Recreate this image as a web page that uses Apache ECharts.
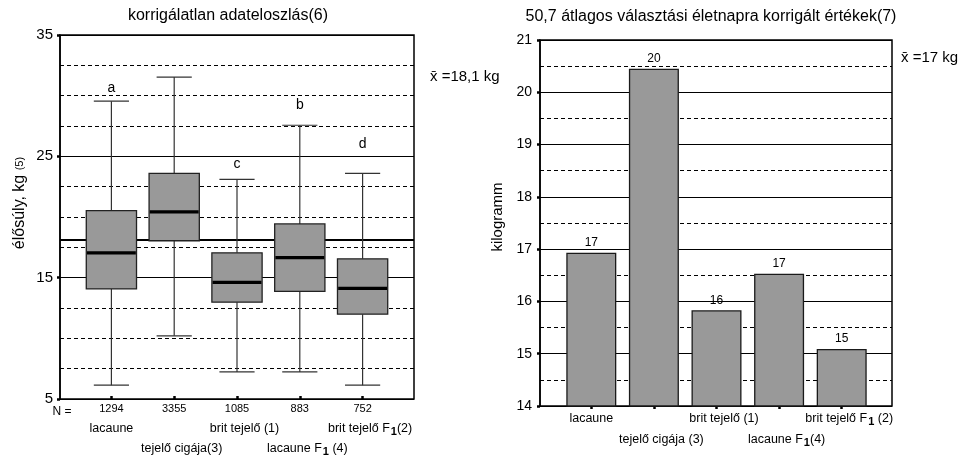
<!DOCTYPE html>
<html>
<head>
<meta charset="utf-8">
<script src="https://cdn.jsdelivr.net/npm/echarts@6/dist/echarts.min.js"></script>
<style>
  html, body { margin: 0; padding: 0; background: #fff; }
  #chart { width: 966px; height: 459px; }
</style>
</head>
<body>
<div id="chart"></div>
<script>
// Breed groups (label pieces: main text, subscript, footnote marker)
const breedNames = ['lacaune', 'tejelő cigája', 'brit tejelő', 'lacaune F', 'brit tejelő F'];
const breedSubs = ['', '', '', '1', '1'];
const leftNotes = ['', '(3)', ' (1)', ' (4)', '(2)'];
const rightNotes = ['', ' (3)', ' (1)', '(4)', ' (2)'];
const sampleSizes = [1294, 3355, 1085, 883, 752];

// Uncorrected live weight distribution (kg)
const whiskerLow = [5.9, 10.0, 7.0, 7.0, 5.9];
const quartile1 = [13.9, 17.9, 12.8, 13.7, 11.8];
const medians = [16.9, 20.3, 14.45, 16.5, 13.95];
const quartile3 = [20.4, 23.5, 16.9, 19.3, 16.4];
const whiskerHigh = [29.5, 31.5, 23.0, 27.5, 23.5];
const groupLetters = ['a', '', 'c', 'b', 'd'];
const letterLevels = [30.6, null, 24.3, 29.15, 25.9];
const overallMean = 18.1;

// Weights corrected to 50.7 days weaning age (kg)
const correctedWeights = [16.93, 20.45, 15.83, 16.53, 15.09];
const correctedMean = 17;

const FONT = 'Liberation Sans, Arial, Helvetica, sans-serif';
const categories = breedNames.map((_, i) => String(i));

function breedLabel(i, notes) {
  let s = notes[i] ? '{sp| }' : '';
  s += '{c|' + breedNames[i] + '}';
  if (breedSubs[i]) s += '{sub|' + breedSubs[i] + '}';
  if (notes[i]) s += '{c|' + notes[i] + '}';
  return s;
}

function richStyles(lh) {
  return {
    n: { fontSize: 11, fontFamily: FONT, color: '#000', lineHeight: lh },
    c: { fontSize: 12.5, fontFamily: FONT, color: '#000', lineHeight: lh },
    sub: { fontSize: 11, fontWeight: 'bold', fontFamily: FONT, color: '#000', lineHeight: lh, padding: [6, 0, 0, 1] },
    sp: { fontSize: 12.5, fontFamily: FONT, width: 15, lineHeight: lh }
  };
}

const boxData = categories.map((c, i) => [i, whiskerLow[i], quartile1[i], medians[i], quartile3[i], whiskerHigh[i]]);

function renderBox(params, api) {
  const i = api.value(0);
  const band = api.size([1, 0])[0];
  const bw = band * 0.8;
  const cw = band * 0.56;
  const low = api.coord([i, api.value(1)]);
  const q1 = api.coord([i, api.value(2)]);
  const med = api.coord([i, api.value(3)]);
  const q3 = api.coord([i, api.value(4)]);
  const high = api.coord([i, api.value(5)]);
  const x = med[0];
  const wStyle = { stroke: '#333', lineWidth: 1.2 };
  const children = [
    { type: 'line', shape: { x1: x, y1: high[1], x2: x, y2: q3[1] }, style: wStyle },
    { type: 'line', shape: { x1: x, y1: q1[1], x2: x, y2: low[1] }, style: wStyle },
    { type: 'line', shape: { x1: x - cw / 2, y1: high[1], x2: x + cw / 2, y2: high[1] }, style: wStyle },
    { type: 'line', shape: { x1: x - cw / 2, y1: low[1], x2: x + cw / 2, y2: low[1] }, style: wStyle },
    { type: 'rect', shape: { x: x - bw / 2, y: q3[1], width: bw, height: q1[1] - q3[1] },
      style: { fill: '#999999', stroke: '#222', lineWidth: 1.3 } },
    { type: 'line', shape: { x1: x - bw / 2 + 0.7, y1: med[1], x2: x + bw / 2 - 0.7, y2: med[1] },
      style: { stroke: '#000', lineWidth: 3.2 } }
  ];
  if (groupLetters[i]) {
    const p = api.coord([i, letterLevels[i]]);
    children.push({ type: 'text', x: p[0], y: p[1],
      style: { text: groupLetters[i], fill: '#000', font: '14px ' + FONT, align: 'center', verticalAlign: 'middle' } });
  }
  return { type: 'group', children };
}

const chart = echarts.init(document.getElementById('chart'), null, { renderer: 'canvas' });

const yAxisCommon = {
  axisLine: { show: true, lineStyle: { color: '#000', width: 1.5 } },
  axisTick: { show: true, length: 3, lineStyle: { color: '#000', width: 2.5 } },
  splitLine: { show: true, lineStyle: { color: '#000', width: 1, type: 'solid' } },
  minorTick: { show: false },
  minorSplitLine: { show: true, lineStyle: { color: '#000', width: 1, type: [4, 3] } }
};

const option = {
  animation: false,
  backgroundColor: '#fff',
  grid: [
    { left: 60, top: 35, width: 354, height: 364, show: true, borderColor: '#000', borderWidth: 1.5, backgroundColor: 'transparent' },
    { left: 80, top: 35, width: 314, height: 364 },
    { left: 540, top: 40, width: 352, height: 366, show: true, borderColor: '#000', borderWidth: 1.5, backgroundColor: 'transparent' },
    { left: 560, top: 40, width: 313, height: 366 }
  ],
  xAxis: [
    { gridIndex: 0, type: 'value', min: 0, max: 1, show: false },
    { gridIndex: 1, type: 'category', data: categories,
      axisLine: { show: false },
      axisTick: { show: true, alignWithLabel: true, length: 3, lineStyle: { color: '#000', width: 2.5 } },
      axisLabel: { margin: 3, interval: 0, lineHeight: 20, rich: richStyles(20),
        formatter: (v, i) => {
          const lines = ['{n|' + sampleSizes[i] + '}'];
          if (i % 2 === 0) lines.push(breedLabel(i, leftNotes), '{c| }');
          else lines.push('{c| }', breedLabel(i, leftNotes));
          return lines.join('\n');
        } } },
    { gridIndex: 2, type: 'value', min: 0, max: 1, show: false },
    { gridIndex: 3, type: 'category', data: categories,
      axisLine: { show: false },
      axisTick: { show: true, alignWithLabel: true, length: 3, lineStyle: { color: '#000', width: 2.5 } },
      axisLabel: { margin: 2.5, interval: 0, lineHeight: 21, rich: richStyles(21),
        formatter: (v, i) => (i % 2 === 0)
          ? breedLabel(i, rightNotes) + '\n{c| }'
          : '{c| }\n' + breedLabel(i, rightNotes) } }
  ],
  yAxis: [
    Object.assign({ gridIndex: 0, type: 'value', min: 5, max: 35, interval: 10,
      axisLabel: { fontSize: 15, color: '#000', fontFamily: FONT, margin: 7 } }, yAxisCommon,
      { minorTick: { show: false, splitNumber: 4 } }),
    { gridIndex: 1, type: 'value', min: 5, max: 35, show: false },
    Object.assign({ gridIndex: 2, type: 'value', min: 14, max: 21, interval: 1,
      axisLabel: { fontSize: 14, color: '#000', fontFamily: FONT, margin: 8 } }, yAxisCommon,
      { minorTick: { show: false, splitNumber: 2 } }),
    { gridIndex: 3, type: 'value', min: 14, max: 21, show: false }
  ],
  series: [
    { type: 'line', xAxisIndex: 0, yAxisIndex: 0, data: [], silent: true,
      markLine: { silent: true, symbol: 'none', label: { show: false },
        lineStyle: { color: '#000', width: 2, type: 'solid' },
        data: [{ yAxis: overallMean }] } },
    { type: 'custom', xAxisIndex: 1, yAxisIndex: 1, data: boxData, renderItem: renderBox, z: 5 },
    { type: 'bar', xAxisIndex: 3, yAxisIndex: 3, data: correctedWeights, barWidth: 50, z: 5,
      itemStyle: { color: '#999999', borderColor: '#1a1a1a', borderWidth: 1.3 },
      label: { show: true, position: 'top', distance: 4, fontSize: 12, color: '#000', fontFamily: FONT,
        formatter: p => String(Math.round(p.value)) } }
  ],
  graphic: [
    { type: 'text', x: 228, y: 16, style: { text: 'korrigálatlan adateloszlás(6)', font: '16px ' + FONT, fill: '#000', align: 'center', verticalAlign: 'middle' } },
    { type: 'text', x: 711, y: 17, style: { text: '50,7 átlagos választási életnapra korrigált értékek(7)', font: '16px ' + FONT, fill: '#000', align: 'center', verticalAlign: 'middle' } },
    { type: 'text', x: 430, y: 77, style: { text: 'x\u0304 =' + String(overallMean).replace('.', ',') + ' kg', font: '15px ' + FONT, fill: '#000', align: 'left', verticalAlign: 'middle' } },
    { type: 'text', x: 901, y: 58, style: { text: 'x\u0304 =' + String(correctedMean).replace('.', ',') + ' kg', font: '15px ' + FONT, fill: '#000', align: 'left', verticalAlign: 'middle' } },
    { type: 'text', x: 62, y: 412, style: { text: 'N =', font: '12px ' + FONT, fill: '#000', align: 'center', verticalAlign: 'middle' } },
    { type: 'text', x: 20, y: 203, rotation: Math.PI / 2,
      style: { text: '{a|élősúly, kg} {b|(5)}', font: '16px ' + FONT, fill: '#000', align: 'center', verticalAlign: 'middle',
        rich: { a: { fontSize: 16, fontFamily: FONT }, b: { fontSize: 11, fontFamily: FONT } } } },
    { type: 'text', x: 498, y: 217, rotation: Math.PI / 2,
      style: { text: 'kilogramm', font: '15px ' + FONT, fill: '#000', align: 'center', verticalAlign: 'middle' } }
  ]
};

chart.setOption(option);
</script>
</body>
</html>
